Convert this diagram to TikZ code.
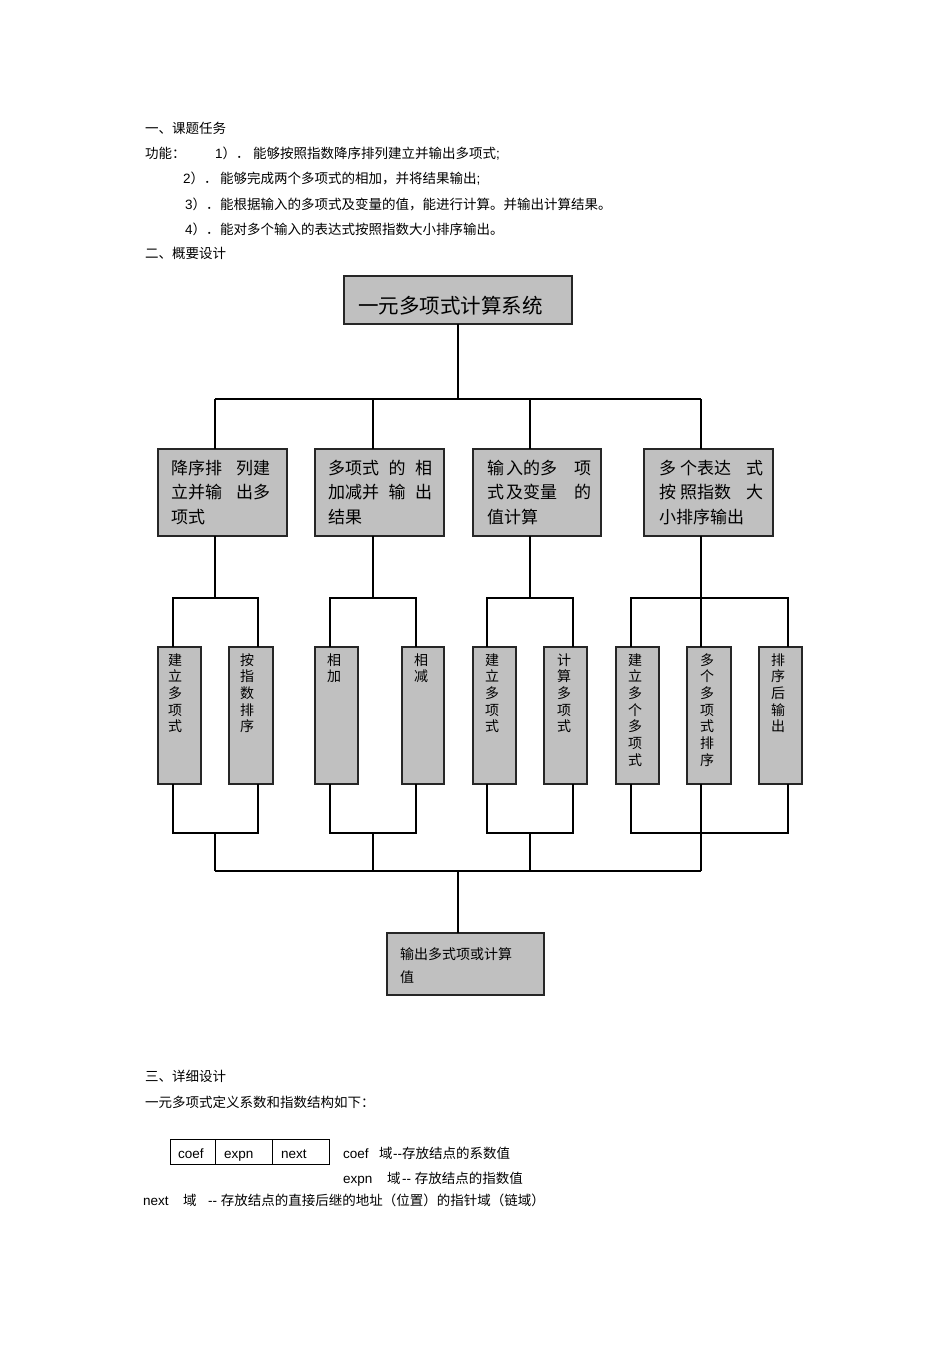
\documentclass[tikz,border=0pt]{standalone}
\usepackage{fontspec}
\setmainfont{Noto Sans CJK SC}
\newfontfamily\lat{Liberation Sans}
\definecolor{boxgray}{RGB}{192,192,192}
\newcommand\vc[1]{\hbox{#1}}
\begin{document}
\begin{tikzpicture}[x=1pt,y=-1pt,
  conn/.style={line width=1.8pt, black},
  gbox/.style={draw=black!85, line width=1.4pt, fill=boxgray, inner sep=0pt, outer sep=0pt},
  cell/.style={draw=black, line width=0.9pt, inner sep=0pt, minimum height=25pt},
  txt/.style={anchor=base west, inner sep=0pt, font=\fontsize{13.5}{16}\selectfont},
  toptxt/.style={anchor=base west, inner sep=0pt, font=\fontsize{20.5}{24}\selectfont},
  midtxt/.style={anchor=base west, inner sep=0pt, font=\fontsize{17}{24.5}\selectfont},
  vtxt/.style={anchor=base, inner sep=0pt, font=\fontsize{14}{16.7}\selectfont},
  outtxt/.style={anchor=base west, inner sep=0pt, font=\fontsize{14}{23}\selectfont},
  celltxt/.style={anchor=base west, inner sep=0pt, font=\lat\fontsize{13.5}{16}\selectfont}
]
\useasboundingbox (0,0) rectangle (950,1345);

% ---------- header text ----------
\node[txt] (h1) at (145,133) {一、课题任务};
\node[txt] (f0) at (145,158) {功能：};
\node[txt] (n1) at (215,158) {{\lat 1}）．};
\node[txt] (s1) at (253,158) {能够按照指数降序排列建立并输出多项式{\lat ;}};
\node[txt] (n2) at (183,183) {{\lat 2}）．};
\node[txt] (s2) at (220,183) {能够完成两个多项式的相加，并将结果输出{\lat ;}};
\node[txt] (n3) at (185,209) {{\lat 3}）．};
\node[txt] (s3) at (220,209) {能根据输入的多项式及变量的值，能进行计算。并输出计算结果。};
\node[txt] (n4) at (185,234) {{\lat 4}）．};
\node[txt] (s4) at (220,234) {能对多个输入的表达式按照指数大小排序输出。};
\node[txt] (h2) at (145,258) {二、概要设计};

% ---------- top box ----------
\node[gbox, minimum width=228pt, minimum height=48pt] (top) at (458,300) {};
\node[toptxt] (toplbl) at (358,313) {一元多项式计算系统};

% ---------- level 2 boxes ----------
\node[gbox, minimum width=129pt, minimum height=87pt] (b2a) at (222.5,492.5) {};
\node[gbox, minimum width=129pt, minimum height=87pt] (b2b) at (379.5,492.5) {};
\node[gbox, minimum width=128pt, minimum height=87pt] (b2c) at (537,492.5) {};
\node[gbox, minimum width=129pt, minimum height=87pt] (b2d) at (708.5,492.5) {};

\node[midtxt] (t2a) at (171,474) {\vtop{\hbox to 99pt{降序排\hfill 列建}\hbox to 99pt{立并输\hfill 出多}\vc{项式}}};
\node[midtxt] (t2b) at (328,474) {\vtop{\hbox to 104pt{多项式\hfill 的\hfill 相}\hbox to 104pt{加减并\hfill 输\hfill 出}\vc{结果}}};
\node[midtxt] (t2c) at (487,474) {\vtop{\hbox to 104pt{输\hspace{2pt}入的多\hfill 项}\hbox to 104pt{式\hspace{2pt}及变量\hfill 的}\vc{值计算}}};
\node[midtxt] (t2d) at (659,474) {\vtop{\hbox to 104pt{多\hspace{4pt}个表达\hfill 式}\hbox to 104pt{按\hspace{4pt}照指数\hfill 大}\vc{小排序输出}}};

% ---------- level 3 boxes ----------
\node[gbox, minimum width=43pt, minimum height=137pt] (b3a1) at (179.5,715.5) {};
\node[gbox, minimum width=44pt, minimum height=137pt] (b3a2) at (251,715.5) {};
\node[gbox, minimum width=43pt, minimum height=137pt] (b3b1) at (336.5,715.5) {};
\node[gbox, minimum width=42pt, minimum height=137pt] (b3b2) at (423,715.5) {};
\node[gbox, minimum width=43pt, minimum height=137pt] (b3c1) at (494.5,715.5) {};
\node[gbox, minimum width=43pt, minimum height=137pt] (b3c2) at (565.5,715.5) {};
\node[gbox, minimum width=43pt, minimum height=137pt] (b3d1) at (637.5,715.5) {};
\node[gbox, minimum width=44pt, minimum height=137pt] (b3d2) at (709,715.5) {};
\node[gbox, minimum width=43pt, minimum height=137pt] (b3d3) at (780.5,715.5) {};

\node[vtxt] (t3a1) at (175,665) {\vtop{\vc{建}\vc{立}\vc{多}\vc{项}\vc{式}}};
\node[vtxt] (t3a2) at (247,665) {\vtop{\vc{按}\vc{指}\vc{数}\vc{排}\vc{序}}};
\node[vtxt] (t3b1) at (334,665) {\vtop{\vc{相}\vc{加}}};
\node[vtxt] (t3b2) at (421,665) {\vtop{\vc{相}\vc{减}}};
\node[vtxt] (t3c1) at (492,665) {\vtop{\vc{建}\vc{立}\vc{多}\vc{项}\vc{式}}};
\node[vtxt] (t3c2) at (564,665) {\vtop{\vc{计}\vc{算}\vc{多}\vc{项}\vc{式}}};
\node[vtxt] (t3d1) at (635,665) {\vtop{\vc{建}\vc{立}\vc{多}\vc{个}\vc{多}\vc{项}\vc{式}}};
\node[vtxt] (t3d2) at (707,665) {\vtop{\vc{多}\vc{个}\vc{多}\vc{项}\vc{式}\vc{排}\vc{序}}};
\node[vtxt] (t3d3) at (778,665) {\vtop{\vc{排}\vc{序}\vc{后}\vc{输}\vc{出}}};

% ---------- output box ----------
\node[gbox, minimum width=157pt, minimum height=62pt] (out) at (465.5,964) {};
\node[outtxt] (outlbl) at (400,959) {\vtop{\vc{输出多式项或计算}\vc{值}}};

% ---------- connectors: top ----------
\coordinate (J) at (458,399);
\coordinate (ja) at (215,399);
\coordinate (jb) at (373,399);
\coordinate (jc) at (530,399);
\coordinate (jd) at (701,399);
\draw[conn] (top.south) -- (J);
\draw[conn] (ja) -- (jd);
\draw[conn] (ja) -- (ja |- b2a.north);
\draw[conn] (jb) -- (jb |- b2b.north);
\draw[conn] (jc) -- (jc |- b2c.north);
\draw[conn] (jd) -- (jd |- b2d.north);

% ---------- connectors: level 2 to level 3 ----------
\coordinate (ka) at (215,598);
\coordinate (kb) at (373,598);
\coordinate (kc) at (530,598);
\coordinate (kd) at (701,598);
\draw[conn] (ka |- b2a.south) -- (ka);
\draw[conn] (kb |- b2b.south) -- (kb);
\draw[conn] (kc |- b2c.south) -- (kc);
\draw[conn] (kd |- b2d.south) -- (kd);

\coordinate (ka1) at (173,598); \coordinate (ka2) at (258,598);
\coordinate (kb1) at (330,598); \coordinate (kb2) at (416,598);
\coordinate (kc1) at (487,598); \coordinate (kc2) at (573,598);
\coordinate (kd1) at (631,598); \coordinate (kd3) at (788,598);
\draw[conn] (ka1 |- b3a1.north) -- (ka1) -- (ka2) -- (ka2 |- b3a2.north);
\draw[conn] (kb1 |- b3b1.north) -- (kb1) -- (kb2) -- (kb2 |- b3b2.north);
\draw[conn] (kc1 |- b3c1.north) -- (kc1) -- (kc2) -- (kc2 |- b3c2.north);
\draw[conn] (kd1 |- b3d1.north) -- (kd1) -- (kd3) -- (kd3 |- b3d3.north);
\draw[conn] (kd) -- (kd |- b3d2.north);

% ---------- connectors: level 3 to bottom ----------
\coordinate (ma) at (215,833);
\coordinate (mb) at (373,833);
\coordinate (mc) at (530,833);
\coordinate (md) at (701,833);
\coordinate (ma1) at (173,833); \coordinate (ma2) at (258,833);
\coordinate (mb1) at (330,833); \coordinate (mb2) at (416,833);
\coordinate (mc1) at (487,833); \coordinate (mc2) at (573,833);
\coordinate (md1) at (631,833); \coordinate (md3) at (788,833);
\draw[conn] (ma1 |- b3a1.south) -- (ma1) -- (ma2) -- (ma2 |- b3a2.south);
\draw[conn] (mb1 |- b3b1.south) -- (mb1) -- (mb2) -- (mb2 |- b3b2.south);
\draw[conn] (mc1 |- b3c1.south) -- (mc1) -- (mc2) -- (mc2 |- b3c2.south);
\draw[conn] (md1 |- b3d1.south) -- (md1) -- (md3) -- (md3 |- b3d3.south);
\draw[conn] (md |- b3d2.south) -- (md);

\coordinate (na) at (215,871);
\coordinate (nb) at (373,871);
\coordinate (nc) at (530,871);
\coordinate (nd) at (701,871);
\coordinate (N) at (458,871);
\draw[conn] (ma) -- (na);
\draw[conn] (mb) -- (nb);
\draw[conn] (mc) -- (nc);
\draw[conn] (md) -- (nd);
\draw[conn] (na) -- (nd);
\draw[conn] (N) -- (N |- out.north);

% ---------- detail section ----------
\node[txt] (h3) at (145,1081) {三、详细设计};
\node[txt] (d1) at (145,1107) {一元多项式定义系数和指数结构如下：};

\node[cell, minimum width=45pt] (c1) at (192.5,1151.5) {};
\node[cell, minimum width=57pt] (c2) at (243.5,1151.5) {};
\node[cell, minimum width=57pt] (c3) at (300.5,1151.5) {};
\node[celltxt] (c1t) at (178,1158) {coef};
\node[celltxt] (c2t) at (224,1158) {expn};
\node[celltxt] (c3t) at (281,1158) {next};

\node[txt] (e1a) at (343,1158) {{\lat coef}};
\node[txt] (e1b) at (379,1158) {域};
\node[txt] (e1c) at (393,1158) {{\lat -{}-}存放结点的系数值};
\node[txt] (e2a) at (343,1183) {{\lat expn}};
\node[txt] (e2b) at (387,1183) {域};
\node[txt] (e2c) at (402,1183) {{\lat -{}- }存放结点的指数值};
\node[txt] (e3a) at (143,1205) {{\lat next}};
\node[txt] (e3b) at (183,1205) {域};
\node[txt] (e3c) at (208,1205) {{\lat -{}- }存放结点的直接后继的地址（位置）的指针域（链域）};
\end{tikzpicture}
\end{document}
